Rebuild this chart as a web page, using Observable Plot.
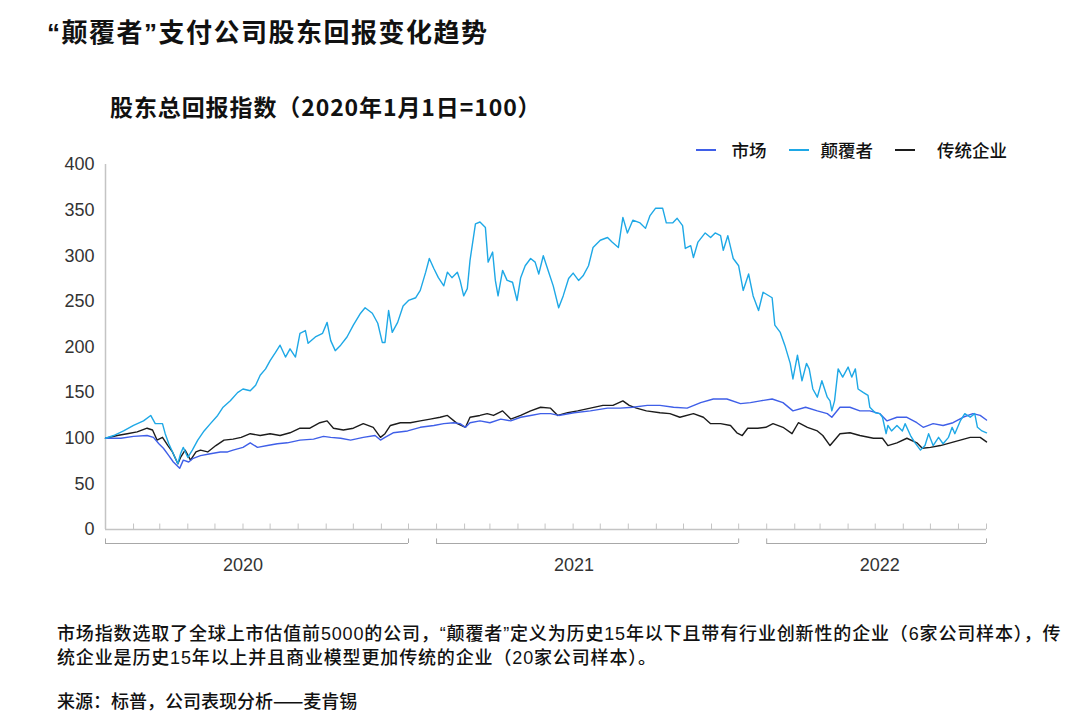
<!DOCTYPE html>
<html>
<head>
<meta charset="utf-8">
<script src="https://cdn.jsdelivr.net/npm/d3@7"></script>
<script src="https://cdn.jsdelivr.net/npm/@observablehq/plot@0.6"></script>
<style>
  html, body { margin: 0; padding: 0; background: #fff; }
  #page { position: relative; width: 1075px; height: 720px; overflow: hidden; background: #fff;
          font-family: "Noto Sans CJK SC", "Noto Sans", sans-serif; color: #111; }
  #title { position: absolute; left: 47px; top: 15px; font-family: "Liberation Sans", "Noto Sans CJK SC", sans-serif; font-size: 26px; font-weight: 700; letter-spacing: 1.5px; line-height: 36px; white-space: nowrap; }
  #subtitle { position: absolute; left: 110px; top: 91px; font-size: 23px; font-weight: 600; letter-spacing: 0.9px; line-height: 30px; white-space: nowrap; }
  #legend { position: absolute; right: 68px; top: 137px; z-index: 5; display: flex; align-items: center; font-size: 17.5px; font-weight: 500; line-height: 26px; white-space: nowrap; }
  #legend .sw { width: 20px; height: 2px; display: inline-block; }
  #chart { position: absolute; left: 0; top: 140px; z-index: 1; }
  #note { position: absolute; left: 57px; top: 622px; font-family: "Liberation Sans", "Noto Sans CJK SC", sans-serif; font-size: 18px; font-weight: 500; letter-spacing: 0.85px; line-height: 24px; white-space: nowrap; z-index: 5; }
  #source { position: absolute; left: 57px; top: 688px; font-size: 18px; font-weight: 500; line-height: 24px; white-space: nowrap; z-index: 5; }
</style>
</head>
<body>
<div id="page">
  <div id="title">“颠覆者”支付公司股东回报变化趋势</div>
  <div id="subtitle">股东总回报指数（2020年1月1日=100）</div>
  <div id="chart"></div>
  <div id="legend"></div>
  <div id="note">市场指数选取了全球上市估值前5000的公司，“颠覆者”定义为历史15年以下且带有行业创新性的企业（6家公司样本），传<br>统企业是历史15年以上并且商业模型更加传统的企业（20家公司样本）。</div>
  <div id="source">来源：标普，公司表现分析——麦肯锡</div>
</div>
<script>
// ---------- DATA ----------
const seriesNames = ["市场", "颠覆者", "传统企业"];
const seriesColors = ["#3f5fe8", "#1ea8e6", "#1c1c1c"];
const yTickValues = [0, 50, 100, 150, 200, 250, 300, 350, 400];
const yearLabels = ["2020", "2021", "2022"];
const yearStarts = ["2020-01-01", "2021-01-01", "2022-01-01"];
const yearEnds = ["2020-12-01", "2021-12-01", "2022-09-01"];
const yearLabelAnchors = ["2020-06-01", "2021-06-02", "2022-05-06"];
const axisStart = "2020-01-01";
const axisEnd = "2022-09-01";

const marketDates = ["2020-01-01","2020-01-18","2020-02-01","2020-02-16","2020-02-23","2020-02-29","2020-03-05","2020-03-11","2020-03-16","2020-03-23","2020-03-27","2020-04-02","2020-04-07","2020-04-15","2020-04-26","2020-05-07","2020-05-15","2020-05-21","2020-06-01","2020-06-09","2020-06-17","2020-06-28","2020-07-09","2020-07-20","2020-08-03","2020-08-18","2020-08-29","2020-09-06","2020-09-17","2020-09-28","2020-10-12","2020-10-25","2020-10-31","2020-11-05","2020-11-14","2020-11-30","2020-12-14","2020-12-29","2021-01-09","2021-01-20","2021-01-27","2021-02-02","2021-02-07","2021-02-18","2021-03-01","2021-03-13","2021-03-24","2021-04-04","2021-04-15","2021-04-26","2021-05-07","2021-05-16","2021-06-02","2021-06-20","2021-07-09","2021-07-23","2021-08-06","2021-08-22","2021-09-05","2021-09-20","2021-10-05","2021-10-20","2021-11-03","2021-11-18","2021-12-03","2021-12-14","2021-12-25","2022-01-07","2022-01-19","2022-01-30","2022-02-13","2022-02-26","2022-03-09","2022-03-14","2022-03-23","2022-04-03","2022-04-14","2022-04-25","2022-05-06","2022-05-14","2022-05-25","2022-06-05","2022-06-16","2022-06-23","2022-07-04","2022-07-15","2022-07-26","2022-08-06","2022-08-17","2022-08-25","2022-09-01"];
const marketValues = [100,100,102,103,101,94,89,81,74,67,76,74,78,81,83,85,85,87,90,95,90,92,94,95,98,99,102,101,100,98,101,103,98,101,106,108,112,114,116,117,116,112,117,119,117,121,119,123,125,127,127,125,128,130,133,133,134,136,136,134,133,139,143,143,138,139,141,143,139,130,134,130,127,123,134,134,130,130,127,119,123,123,117,112,116,114,117,123,127,125,120];

const disruptorDates = ["2020-01-01","2020-01-10","2020-01-21","2020-02-01","2020-02-12","2020-02-20","2020-02-25","2020-03-04","2020-03-07","2020-03-11","2020-03-16","2020-03-21","2020-03-24","2020-03-27","2020-04-01","2020-04-06","2020-04-12","2020-04-19","2020-04-26","2020-05-04","2020-05-10","2020-05-18","2020-05-26","2020-06-01","2020-06-09","2020-06-15","2020-06-20","2020-06-26","2020-07-01","2020-07-07","2020-07-12","2020-07-18","2020-07-23","2020-07-29","2020-08-03","2020-08-09","2020-08-12","2020-08-20","2020-08-28","2020-09-02","2020-09-06","2020-09-11","2020-09-17","2020-09-24","2020-10-01","2020-10-09","2020-10-14","2020-10-22","2020-10-28","2020-11-02","2020-11-05","2020-11-09","2020-11-13","2020-11-19","2020-11-25","2020-12-01","2020-12-09","2020-12-14","2020-12-20","2020-12-24","2020-12-29","2021-01-03","2021-01-09","2021-01-13","2021-01-18","2021-01-24","2021-01-27","2021-01-31","2021-02-04","2021-02-07","2021-02-13","2021-02-18","2021-02-24","2021-02-27","2021-03-04","2021-03-07","2021-03-10","2021-03-15","2021-03-20","2021-03-26","2021-03-31","2021-04-04","2021-04-09","2021-04-15","2021-04-20","2021-04-24","2021-04-29","2021-05-05","2021-05-10","2021-05-16","2021-05-21","2021-05-27","2021-06-01","2021-06-07","2021-06-12","2021-06-18","2021-06-23","2021-07-01","2021-07-09","2021-07-14","2021-07-21","2021-07-26","2021-07-31","2021-08-06","2021-08-14","2021-08-20","2021-08-25","2021-08-31","2021-09-08","2021-09-12","2021-09-19","2021-09-24","2021-09-30","2021-10-03","2021-10-09","2021-10-12","2021-10-17","2021-10-25","2021-10-31","2021-11-05","2021-11-11","2021-11-14","2021-11-19","2021-11-25","2021-12-01","2021-12-06","2021-12-12","2021-12-17","2021-12-23","2021-12-28","2022-01-07","2022-01-10","2022-01-16","2022-01-21","2022-01-27","2022-01-30","2022-02-04","2022-02-09","2022-02-14","2022-02-17","2022-02-21","2022-02-26","2022-03-03","2022-03-09","2022-03-12","2022-03-14","2022-03-17","2022-03-21","2022-03-26","2022-04-01","2022-04-05","2022-04-09","2022-04-12","2022-04-18","2022-04-23","2022-04-25","2022-05-01","2022-05-06","2022-05-09","2022-05-13","2022-05-15","2022-05-19","2022-05-25","2022-05-31","2022-06-03","2022-06-09","2022-06-14","2022-06-20","2022-06-25","2022-06-29","2022-07-04","2022-07-10","2022-07-15","2022-07-21","2022-07-25","2022-07-28","2022-08-03","2022-08-08","2022-08-14","2022-08-19","2022-08-22","2022-08-27","2022-09-01"];
const disruptorValues = [100,103,108,114,119,125,116,116,105,94,83,72,83,90,79,87,98,108,116,125,134,141,150,154,152,158,169,176,185,194,202,189,198,189,215,218,204,211,215,227,207,196,202,211,224,237,243,237,226,205,205,240,216,227,245,251,254,262,282,297,286,276,267,282,276,282,273,256,264,295,335,337,331,293,304,273,256,284,273,271,251,276,289,297,293,280,300,282,267,243,256,275,281,273,278,289,309,317,320,315,309,342,325,339,336,330,344,352,352,336,336,341,333,308,311,298,315,325,320,325,322,306,322,297,289,262,280,256,240,260,254,224,216,202,182,165,191,163,182,176,154,145,163,145,141,130,141,176,167,178,167,176,154,150,147,134,128,127,123,105,114,108,114,108,116,103,95,87,92,105,92,101,94,101,112,105,119,127,123,127,112,108,106];

const traditionalDates = ["2020-01-01","2020-01-14","2020-01-25","2020-02-05","2020-02-16","2020-02-22","2020-02-27","2020-03-04","2020-03-10","2020-03-15","2020-03-21","2020-03-24","2020-03-29","2020-04-04","2020-04-10","2020-04-15","2020-04-23","2020-05-02","2020-05-11","2020-05-21","2020-05-30","2020-06-09","2020-06-20","2020-07-01","2020-07-12","2020-07-23","2020-08-03","2020-08-14","2020-08-25","2020-09-02","2020-09-09","2020-09-20","2020-10-01","2020-10-12","2020-10-23","2020-10-31","2020-11-05","2020-11-11","2020-11-22","2020-12-03","2020-12-14","2020-12-25","2021-01-05","2021-01-13","2021-01-24","2021-02-02","2021-02-07","2021-02-18","2021-02-26","2021-03-05","2021-03-15","2021-03-24","2021-04-04","2021-04-15","2021-04-26","2021-05-07","2021-05-15","2021-05-26","2021-06-06","2021-06-20","2021-07-04","2021-07-15","2021-07-26","2021-08-02","2021-08-10","2021-08-21","2021-09-05","2021-09-16","2021-09-27","2021-10-12","2021-10-23","2021-10-31","2021-11-11","2021-11-22","2021-11-29","2021-12-05","2021-12-11","2021-12-22","2021-12-31","2022-01-08","2022-01-19","2022-01-29","2022-02-05","2022-02-15","2022-02-26","2022-03-04","2022-03-12","2022-03-23","2022-04-03","2022-04-14","2022-04-29","2022-05-09","2022-05-15","2022-05-25","2022-06-05","2022-06-16","2022-06-22","2022-07-01","2022-07-12","2022-07-23","2022-08-03","2022-08-14","2022-08-25","2022-09-01"];
const traditionalValues = [100,103,105,107,111,109,98,101,92,85,72,79,87,76,85,87,85,92,98,99,101,105,103,105,103,106,111,111,117,119,111,109,111,116,112,101,105,114,117,117,119,121,123,125,116,112,123,125,127,125,130,121,125,130,134,133,125,128,130,133,136,136,141,136,133,130,128,127,123,127,123,116,116,114,106,103,111,111,112,116,112,105,117,112,108,103,92,105,106,103,100,100,92,95,100,95,89,90,92,95,98,101,101,96];

// ---------- BUILD ----------
const parse = s => new Date(s + "T00:00:00Z");
const rows = [];
[[marketDates, marketValues, seriesNames[0]],
 [disruptorDates, disruptorValues, seriesNames[1]],
 [traditionalDates, traditionalValues, seriesNames[2]]].forEach(([ds, vs, name]) => {
  ds.forEach((d, i) => rows.push({date: parse(d), value: vs[i], series: name}));
});
const x0 = parse(axisStart), x1 = parse(axisEnd);
const monthTicks = d3.utcMonth.range(x0, d3.utcDay.offset(x1, 1));
const years = yearLabels.map((label, i) => ({
  label, start: parse(yearStarts[i]), end: parse(yearEnds[i]), anchor: parse(yearLabelAnchors[i])
}));
const bracketEnds = years.flatMap(y => [y.start, y.end]);
const axisGray = "#c4c4c4";
const bracketGray = "#a8a8a8";
const numFont = "'Liberation Sans', Arial, sans-serif";

const chart = Plot.plot({
  width: 1075,
  height: 450,
  marginLeft: 105,
  marginRight: 89,
  marginTop: 24,
  marginBottom: 61,
  x: {type: "utc", domain: [x0, x1], axis: null},
  y: {domain: [0, 400], axis: null},
  color: {domain: seriesNames, range: seriesColors},
  style: {background: "transparent", overflow: "visible", fontFamily: numFont},
  marks: [
    Plot.ruleX([x0], {y1: 0, y2: 400, stroke: axisGray, strokeWidth: 1.5}),
    Plot.ruleY([0], {stroke: axisGray, strokeWidth: 1.5}),
    Plot.ruleX(monthTicks, {x: d => d, y1: 0, y2: 6, stroke: axisGray}),
    Plot.ruleY(years, {x1: "start", x2: "end", y: 0, dy: 14, stroke: bracketGray}),
    Plot.ruleX(bracketEnds, {x: d => d, y1: 0, y2: 5, dy: 14, stroke: bracketGray}),
    Plot.text(years, {x: "anchor", y: 0, dy: 36, text: "label", fontSize: 18, fill: "#333", letterSpacing: "0.3px"}),
    Plot.text(yTickValues, {x: x0, y: d => d, dx: -11, textAnchor: "end", text: d => String(d), fontSize: 18, fill: "#333", letterSpacing: "0.8px"}),
    Plot.line(rows.filter(r => r.series === seriesNames[2]), {x: "date", y: "value", stroke: "series", strokeWidth: 1.4}),
    Plot.line(rows.filter(r => r.series === seriesNames[0]), {x: "date", y: "value", stroke: "series", strokeWidth: 1.4}),
    Plot.line(rows.filter(r => r.series === seriesNames[1]), {x: "date", y: "value", stroke: "series", strokeWidth: 1.4})
  ]
});
document.getElementById("chart").appendChild(chart);

// legend
const legend = document.getElementById("legend");
const gaps = [16, 12, 22];
seriesNames.forEach((name, i) => {
  const item = document.createElement("span");
  item.style.display = "inline-flex";
  item.style.alignItems = "center";
  if (i > 0) item.style.marginLeft = "22px";
  const sw = document.createElement("span");
  sw.className = "sw";
  sw.style.background = seriesColors[i];
  sw.style.marginRight = gaps[i] + "px";
  const tx = document.createElement("span");
  tx.textContent = name;
  item.appendChild(sw);
  item.appendChild(tx);
  legend.appendChild(item);
});
</script>
</body>
</html>
